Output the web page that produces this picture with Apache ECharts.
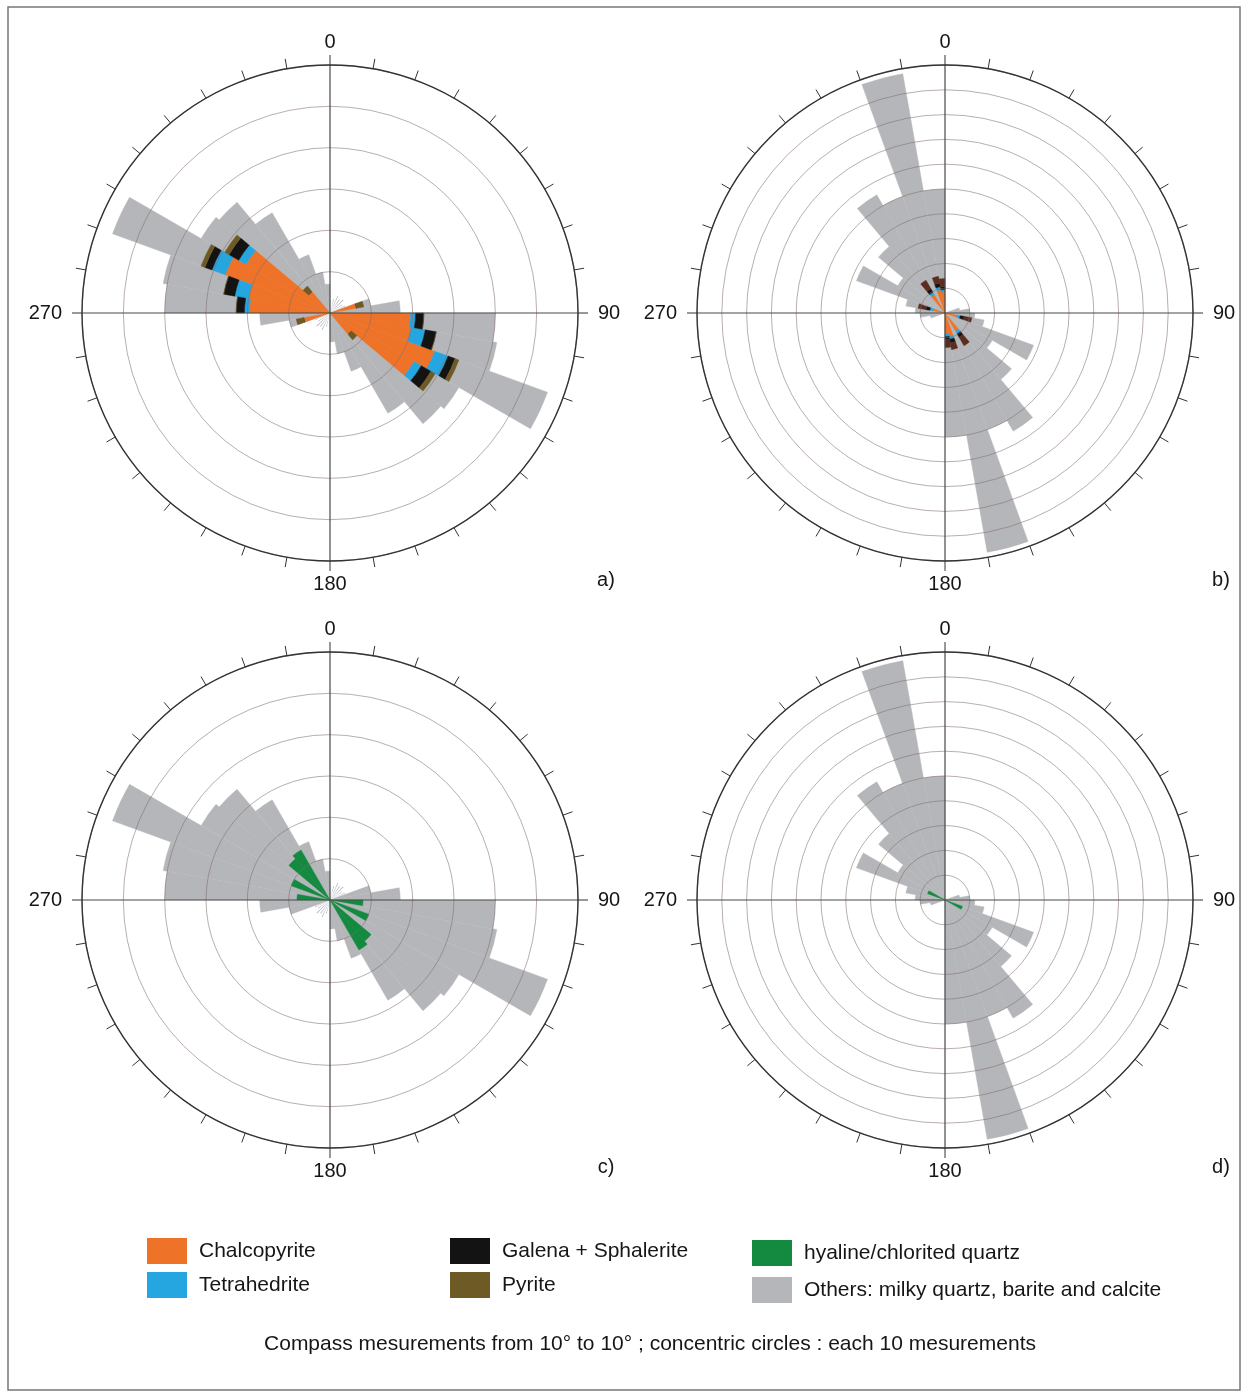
<!DOCTYPE html>
<html>
<head>
<meta charset="utf-8">
<script src="https://cdn.jsdelivr.net/npm/echarts/dist/echarts.min.js"></script>
<style>
  html, body { margin: 0; background: #fff; }
  #chart { width: 1248px; height: 1398px; }
</style>
</head>
<body>
<div id="chart"></div>
<script>
// Rose diagrams of vein orientations, 10° bins, bidirectional (bin i and i+18 mirror)
const BINS = Array.from({ length: 36 }, (_, i) => String(i * 10));

// a) + c) : "Others" (grey) background rose, radius max 60
const GRAY_AC = [0, 0, 0, 0, 0, 0, 0, 10, 17, 40, 41, 56, 36, 35, 28, 15, 10, 7,
                 0, 0, 0, 0, 0, 0, 0, 10, 17, 40, 41, 56, 36, 35, 28, 15, 10, 7];
// thin grey spokes near the centre of a) and c)
const SPIKES_AC = [0, 3.5, 4.5, 4, 4.5, 3.5, 4, 0, 0, 0, 0, 0, 0, 0, 0, 0, 0, 0,
                   0, 3.5, 4.5, 4, 4.5, 3.5, 4, 0, 0, 0, 0, 0, 0, 0, 0, 0, 0, 0];
// b) + d) : grey rose, radius max 100
const GRAY_BD = [0, 0, 0, 0, 0, 0, 0, 6, 10, 12, 16, 38, 22, 35, 55, 50, 98, 50,
                 0, 0, 0, 0, 0, 0, 0, 6, 10, 12, 16, 38, 22, 35, 55, 50, 98, 50];

// a) sulphides, stacked outward
const CHALCO_A = [0, 0, 0, 0, 0, 0, 0, 6.5, 0, 19.5, 20, 27, 23.5, 6.8, 0, 0, 0, 0,
                  0, 0, 0, 0, 0, 0, 0, 6.5, 0, 19.5, 20, 27, 23.5, 6.8, 0, 0, 0, 0];
const TETRA_A  = [0, 0, 0, 0, 0, 0, 0, 0, 0, 1.2, 3.4, 3.4, 2, 0, 0, 0, 0, 0,
                  0, 0, 0, 0, 0, 0, 0, 0, 0, 1.2, 3.4, 3.4, 2, 0, 0, 0, 0, 0];
const GALENA_A = [0, 0, 0, 0, 0, 0, 0, 0, 0, 2, 2.7, 1.8, 2.7, 0, 0, 0, 0, 0,
                  0, 0, 0, 0, 0, 0, 0, 0, 0, 2, 2.7, 1.8, 2.7, 0, 0, 0, 0, 0];
const PYRITE_A = [0, 0, 0, 0, 0, 0, 0, 1.8, 0, 0, 0, 1, 1.2, 1.7, 0, 0, 0, 0,
                  0, 0, 0, 0, 0, 0, 0, 1.8, 0, 0, 0, 1, 1.2, 1.7, 0, 0, 0, 0];

// b) sulphides
const CHALCO_B = [0, 0, 0, 0, 0, 0, 0, 0, 0, 0, 5, 0, 0, 0, 8.5, 0, 9.5, 8.5,
                  0, 0, 0, 0, 0, 0, 0, 0, 0, 0, 5, 0, 0, 0, 8.5, 0, 9.5, 8.5];
const TETRA_B  = [0, 0, 0, 0, 0, 0, 0, 0, 0, 0, 1.2, 0, 0, 0, 1.2, 0, 1.2, 1,
                  0, 0, 0, 0, 0, 0, 0, 0, 0, 0, 1.2, 0, 0, 0, 1.2, 0, 1.2, 1];
const GALENA_B = [0, 0, 0, 0, 0, 0, 0, 0, 0, 0, 1.6, 0, 0, 0, 1.6, 0, 1.5, 1.2,
                  0, 0, 0, 0, 0, 0, 0, 0, 0, 0, 1.6, 0, 0, 0, 1.6, 0, 1.5, 1.2];
const PYRITE_B = [0, 0, 0, 0, 0, 0, 0, 0, 0, 0, 3.2, 0, 0, 0, 4, 0, 2.8, 3.2,
                  0, 0, 0, 0, 0, 0, 0, 0, 0, 0, 3.2, 0, 0, 0, 4, 0, 2.8, 3.2];

// c) and d) hyaline / chlorited quartz
const GREEN_C = [0, 0, 0, 0, 0, 0, 0, 0, 0, 8, 0, 10, 0, 13, 14, 0, 0, 0,
                 0, 0, 0, 0, 0, 0, 0, 0, 0, 8, 0, 10, 0, 13, 14, 0, 0, 0];
const GREEN_D = [0, 0, 0, 0, 0, 0, 0, 0, 0, 0, 0, 7.5, 0, 0, 0, 0, 0, 0,
                 0, 0, 0, 0, 0, 0, 0, 0, 0, 0, 0, 7.5, 0, 0, 0, 0, 0, 0];

const N_CHALCO = 'Chalcopyrite', N_TETRA = 'Tetrahedrite', N_GALENA = 'Galena + Sphalerite',
      N_PYRITE = 'Pyrite', N_GREEN = 'hyaline/chlorited quartz',
      N_OTHERS = 'Others: milky quartz, barite and calcite';

const C = {
  gray: '#b4b6b9', orange: '#ee7328', blue: '#25a6e1', black: '#131313',
  pyrite: '#6e5a25', pyriteB: '#5b2d21', green: '#138a40', spike: '#aab0ba',
  axis: '#333', ring: 'rgba(130,108,108,0.55)', text: '#161616',
};
const FONT = '"Liberation Sans", Arial, sans-serif';
const R = 248;

const PANELS = [
  { tag: 'a)', center: [330, 313], max: 60, gray: GRAY_AC, spikes: true,
    layers: [[N_CHALCO, CHALCO_A, C.orange], [N_TETRA, TETRA_A, C.blue],
             [N_GALENA, GALENA_A, C.black], [N_PYRITE, PYRITE_A, C.pyrite]] },
  { tag: 'b)', center: [945, 313], max: 100, gray: GRAY_BD, spikes: false,
    layers: [[N_CHALCO, CHALCO_B, C.orange], [N_TETRA, TETRA_B, C.blue],
             [N_GALENA, GALENA_B, C.black], [N_PYRITE, PYRITE_B, C.pyriteB]] },
  { tag: 'c)', center: [330, 900], max: 60, gray: GRAY_AC, spikes: true,
    layers: [[N_GREEN, GREEN_C, C.green]] },
  { tag: 'd)', center: [945, 900], max: 100, gray: GRAY_BD, spikes: false,
    layers: [[N_GREEN, GREEN_D, C.green]] },
];

const hidden = { show: false };
const polar = [], angleAxis = [], radiusAxis = [], series = [], graphic = [];

function catAngle(pi) {
  return { polarIndex: pi, type: 'category', data: BINS, startAngle: 90, boundaryGap: true,
           axisLine: hidden, axisTick: hidden, axisLabel: hidden, splitLine: hidden };
}
function valRadius(pi, max) {
  return { polarIndex: pi, type: 'value', min: 0, max,
           axisLine: hidden, axisTick: hidden, axisLabel: hidden, splitLine: hidden };
}
function bar(pi, name, data, color, stack) {
  return { type: 'bar', coordinateSystem: 'polar', polarIndex: pi, name, data,
           stack: stack + pi, barCategoryGap: '0%', barGap: '-100%', silent: true,
           itemStyle: { color, borderColor: color, borderWidth: 0.4 } };
}

PANELS.forEach(p => {
  const base = polar.length;           // base: bars, +1: spokes, +2: frame
  for (let j = 0; j < 3; j++) polar.push({ center: p.center, radius: R });

  angleAxis.push(catAngle(base), catAngle(base + 1), {
    polarIndex: base + 2, type: 'value', min: 0, max: 360, interval: 10, startAngle: 90, z: 10,
    axisLine: { lineStyle: { color: C.axis, width: 1.4 } },
    axisTick: { show: true, length: 10, lineStyle: { color: C.axis, width: 1 } },
    axisLabel: {
      margin: 13, padding: [0, 7, 0, 7], color: C.text, fontSize: 20, fontFamily: FONT,
      formatter: v => (v % 90 === 0 && v < 360 ? String(v) : ''),
    },
    splitLine: { show: true, lineStyle: {
      width: 1.2,
      color: ['#4a4a4a', 'rgba(0,0,0,0)', 'rgba(0,0,0,0)', 'rgba(0,0,0,0)', 'rgba(0,0,0,0)',
              'rgba(0,0,0,0)', 'rgba(0,0,0,0)', 'rgba(0,0,0,0)', 'rgba(0,0,0,0)'] } },
  });

  radiusAxis.push(valRadius(base, p.max), valRadius(base + 1, p.max), {
    polarIndex: base + 2, type: 'value', min: 0, max: p.max, interval: 10, z: 10,
    axisLine: hidden, axisTick: hidden, axisLabel: hidden,
    splitLine: { show: true, lineStyle: { color: C.ring, width: 1 } },
  });

  series.push(bar(base, N_OTHERS, p.gray, C.gray, 'g'));
  p.layers.forEach(([name, data, color]) => series.push(bar(base, name, data, color, 'c')));
  if (p.spikes) {
    series.push({ type: 'bar', coordinateSystem: 'polar', polarIndex: base + 1, name: 'spokes',
                  data: SPIKES_AC, barWidth: 2.5, silent: true, itemStyle: { color: C.spike } });
  }

  graphic.push({ type: 'text', x: p.center[0] + 276, y: p.center[1] + 267,
                 style: { text: p.tag, font: '20px ' + FONT, fill: C.text,
                          align: 'center', verticalAlign: 'middle',
                          textAlign: 'center', textVerticalAlign: 'middle' } });
});

graphic.push(
  { type: 'rect', shape: { x: 8, y: 7, width: 1232, height: 1383 }, silent: true,
    style: { fill: 'none', stroke: '#777', lineWidth: 1.5 } },
  { type: 'text', x: 650, y: 1344,
    style: { text: 'Compass mesurements from 10° to 10° ; concentric circles : each 10 mesurements',
             font: '21px ' + FONT, fill: C.text, align: 'center', verticalAlign: 'middle',
             textAlign: 'center', textVerticalAlign: 'middle' } }
);

const legendBase = {
  orient: 'vertical', icon: 'rect', itemWidth: 38, itemHeight: 24, selectedMode: false, padding: 0,
  textStyle: { fontSize: 21, color: C.text, fontFamily: FONT, padding: [0, 0, 0, 8] },
};

const chart = echarts.init(document.getElementById('chart'));
chart.setOption({
  backgroundColor: '#fff',
  animation: false,
  polar, angleAxis, radiusAxis, series, graphic,
  legend: [
    { ...legendBase, left: 147, top: 1238, itemGap: 8, data: [N_CHALCO, N_TETRA] },
    { ...legendBase, left: 450, top: 1238, itemGap: 8, data: [N_GALENA, N_PYRITE] },
    { ...legendBase, left: 752, top: 1240, itemGap: 11, data: [N_GREEN, N_OTHERS] },
  ],
});
</script>
</body>
</html>
